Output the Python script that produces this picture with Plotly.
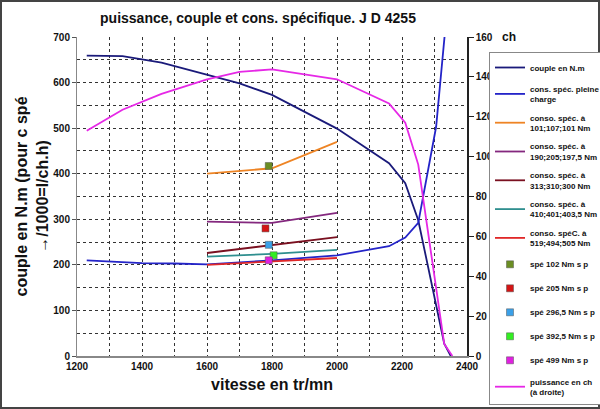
import plotly.graph_objects as go

# ---------------- data ----------------
rpm_couple = [1230, 1340, 1460, 1600, 1700, 1800, 2000, 2160, 2210, 2250, 2330, 2350]
couple = [659, 658, 644, 618, 598, 573, 499, 423, 379, 298, 27, 0]

rpm_cs = [1230, 1300, 1400, 1500, 1600, 1800, 2000, 2160, 2210, 2250, 2305, 2340]
cons_pleine = [210, 207, 204, 203, 201, 210, 221, 241, 260, 292, 503, 770]

rpm_small = [1600, 1800, 2000]
conso_101 = [400, 412, 470]
conso_190 = [295, 292, 314]
conso_313 = [226, 243, 261]
conso_410 = [218, 224, 233]
conso_519 = [200, 208, 215]

spe_names = ["spé 102 Nm s p", "spé 205 Nm s p", "spé 296,5 Nm s p", "spé 392,5 Nm s p", "spé 499 Nm s p"]
spe_rpm = [1790, 1780, 1790, 1805, 1790]
spe_val = [417, 280, 244, 221, 210]

rpm_p = [1230, 1340, 1460, 1600, 1700, 1800, 2000, 2160, 2210, 2250, 2330, 2355]
puissance = [113, 123.5, 131.5, 138.8, 142.5, 143.8, 138.8, 126.7, 117, 96, 6, 0]

# ---------------- styles ----------------
FONT = "Liberation Sans, Arial, sans-serif"
spe_colors = ["#6B8E23", "#D41414", "#3AA0E8", "#33EE22", "#E020E0"]

fig = go.Figure()
lw = 1.8

def line(x, y, name, color, axis="y"):
    fig.add_trace(go.Scatter(x=x, y=y, mode="lines", name=name, yaxis=axis,
                             line=dict(color=color, width=lw), legendgroup=name))

line(rpm_couple, couple, "couple en N.m", "#1A1A7A")
line(rpm_cs, cons_pleine, "cons. spéc. pleine<br>charge", "#2424C8")
line(rpm_small, conso_101, "conso. spéc. à<br>101;107;101 Nm", "#EE8424")
line(rpm_small, conso_190, "conso. spéc. à<br>190;205;197,5 Nm", "#84287E")
line(rpm_small, conso_313, "conso. spéc. à<br>313;310;300 Nm", "#7A1020")
line(rpm_small, conso_410, "conso. spéc. à<br>410;401;403,5 Nm", "#2F8F8F")
line(rpm_small, conso_519, "conso. spéC. à<br>519;494;505 Nm", "#E02828")

for n, xr, v, c in zip(spe_names, spe_rpm, spe_val, spe_colors):
    fig.add_trace(go.Scatter(x=[xr], y=[v], mode="markers", name=n, legendgroup=n,
                             marker=dict(symbol="square", size=7, color=c,
                                         line=dict(color="#555555", width=0.5))))

line(rpm_p, puissance, "puissance en ch<br>(à droite)", "#E628E6", axis="y2")

grid = dict(showgrid=True, gridcolor="#333333", gridwidth=1, griddash="dot")
tickf = dict(size=10, family=FONT, color="#111111", weight="bold")

fig.update_layout(
    width=600, height=409,
    margin=dict(l=77, r=133, t=37, b=53, autoexpand=False),
    paper_bgcolor="white", plot_bgcolor="white",
    font=dict(family=FONT, color="#111111"),
    title=dict(text="<b>puissance, couple et cons. spécifique. J D 4255</b>",
               x=258 / 600, xanchor="center", y=1 - 18 / 409, yanchor="middle",
               font=dict(size=14, family=FONT, color="#111111")),
    xaxis=dict(range=[1200, 2400], dtick=200, tick0=1200, **grid,
               minor=dict(dtick=100, showgrid=True, gridcolor="#333333", griddash="dot"),
               showline=True, linecolor="#888888", linewidth=2, ticks="",
               tickfont=tickf, tickformat="d",
               title=dict(text="<b>vitesse en tr/mn</b>", font=dict(size=16, family=FONT, color="#111111"),
                          standoff=8),
               zeroline=False),
    yaxis=dict(range=[0, 700], dtick=100, **grid,
               minor=dict(dtick=50, showgrid=True, gridcolor="#333333", griddash="dot"),
               showline=True, linecolor="#888888", linewidth=1, ticks="outside", ticklen=4,
               tickcolor="#555555", tickfont=tickf,
               title=dict(text="<b>couple en N.m (pour c spé<br>→/1000=l/ch.h)</b>",
                          font=dict(size=16, family=FONT, color="#111111"), standoff=0),
               zeroline=False),
    yaxis2=dict(range=[0, 160], dtick=20, overlaying="y", side="right", showgrid=False,
                showline=True, linecolor="#222222", linewidth=1.5, ticks="outside", ticklen=5,
                tickcolor="#222222", tickfont=tickf, zeroline=False),
    legend=dict(x=(489 - 77) / 390, xanchor="left", y=(356 - 52) / 319, yanchor="top",
                bgcolor="white", bordercolor="#888888", borderwidth=1,
                font=dict(size=8, family=FONT, color="#111111", weight="bold"),
                itemwidth=30, tracegroupgap=5, valign="middle", maxheight=360),
    showlegend=True,
)

fig.add_annotation(text="<b>ch</b>", xref="paper", yref="paper",
                   x=(500 - 77) / 390, y=(356 - 37) / 319, showarrow=False,
                   xanchor="left", yanchor="middle",
                   font=dict(size=12, family=FONT, color="#111111"))

# outer frame
fig.add_shape(type="rect", xref="paper", yref="paper",
              x0=-76 / 390, x1=(599 - 77) / 390, y0=(356 - 408) / 319, y1=(356 - 1) / 319,
              line=dict(color="#444444", width=2))

fig.write_html("out.html")
